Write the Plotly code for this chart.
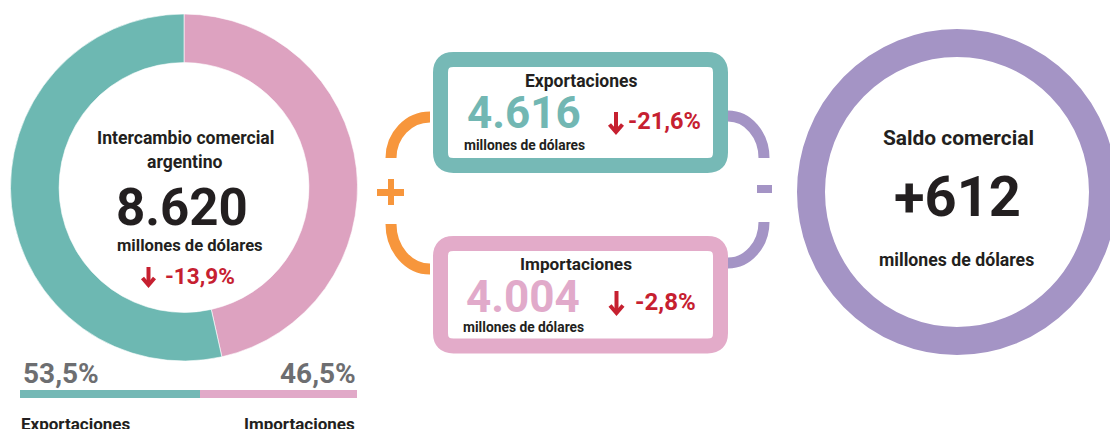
import plotly.graph_objects as go

# --- data ---
share_labels = ["Importaciones", "Exportaciones"]
share_values = [46.5, 53.5]
total_musd = 8620
total_change = -13.9
export_musd = 4616
export_change = -21.6
import_musd = 4004
import_change = -2.8
balance_musd = 612

TEAL = "#6DB8B2"
PINK = "#DDA2C0"
TEAL_BOX = "#76B9B6"
PINK_BOX = "#E3ABC9"
PURPLE = "#A494C5"
ORANGE = "#F7963C"
RED = "#C62030"
DARK = "#231F20"
GREY = "#6D6E71"
FONT = "Roboto, Liberation Sans, sans-serif"

W, H = 1118, 429
OFF = 8  # page body margin around the plot div


def fmt_num(v):
    return f"{v:,}".replace(",", ".")


def fmt_pct(v):
    return f"{v:.1f}".replace(".", ",") + "%"


def rounded_rect(x0, y0, x1, y1, r):
    return (f"M {x0+r},{y0} L {x1-r},{y0} Q {x1},{y0} {x1},{y0+r} "
            f"L {x1},{y1-r} Q {x1},{y1} {x1-r},{y1} L {x0+r},{y1} "
            f"Q {x0},{y1} {x0},{y1-r} L {x0},{y0+r} Q {x0},{y0} {x0+r},{y0} Z")


def quarter(x0, y0, x1, y1, first_horizontal):
    # cubic approximation of a quarter ellipse between two points
    k = 0.5523
    if first_horizontal:
        c1 = (x0 + k * (x1 - x0), y0)
        c2 = (x1, y1 - k * (y1 - y0))
    else:
        c1 = (x0, y0 + k * (y1 - y0))
        c2 = (x1 - k * (x1 - x0), y1)
    return f"M {x0},{y0} C {c1[0]},{c1[1]} {c2[0]},{c2[1]} {x1},{y1}"


def px_x(x):
    return (x - OFF) / W


def px_y(y):
    return (H - (y - OFF)) / H


fig = go.Figure()

# donut: intercambio comercial
fig.add_trace(go.Pie(
    labels=share_labels, values=share_values, hole=0.72, sort=False,
    direction="clockwise", rotation=0,
    marker=dict(colors=[PINK, TEAL], line=dict(color="white", width=0.6)),
    textinfo="none", hoverinfo="label+percent", showlegend=False,
    domain=dict(x=[px_x(10), px_x(358)], y=[px_y(361), px_y(14)]),
))

# share bar under the donut
bar_cols = ["#74B8B5", "#E1A9C8"]
for lab, val, col in zip(share_labels[::-1], share_values[::-1], bar_cols):
    fig.add_trace(go.Bar(
        x=[val], y=[0], orientation="h", marker=dict(color=col, line=dict(width=0)),
        width=1, xaxis="x2", yaxis="y2", showlegend=False, name=lab,
    ))

fig.update_layout(
    width=W, height=H, margin=dict(l=0, r=0, t=0, b=0),
    paper_bgcolor="white", plot_bgcolor="rgba(0,0,0,0)",
    barmode="stack", font=dict(family=FONT, color=DARK),
    xaxis=dict(range=[OFF, W + OFF], visible=False, domain=[0, 1], fixedrange=True),
    yaxis=dict(range=[H + OFF, OFF], visible=False, domain=[0, 1], fixedrange=True),
    xaxis2=dict(range=[0, 100], visible=False, domain=[px_x(20), px_x(357)], anchor="y2"),
    yaxis2=dict(range=[-0.5, 0.5], visible=False, domain=[px_y(398), px_y(390)], anchor="x2"),
)

shapes = []
# boxes
shapes.append(dict(type="path", path=rounded_rect(440.5, 59.5, 720.5, 165.5, 13),
                   line=dict(color=TEAL_BOX, width=15), fillcolor="white"))
shapes.append(dict(type="path", path=rounded_rect(440.5, 243.5, 720.5, 346, 13),
                   line=dict(color=PINK_BOX, width=15), fillcolor="white"))
# brackets
for p, c in [
    (quarter(430, 117, 391, 158, True), ORANGE),
    (quarter(391, 224, 430, 269, False), ORANGE),
    (quarter(728, 116, 764, 158, True), PURPLE),
    (quarter(764, 222, 728, 263, False), PURPLE),
]:
    shapes.append(dict(type="path", path=p, line=dict(color=c, width=11)))
# plus / minus signs
shapes.append(dict(type="line", x0=377, x1=404, y0=192.5, y1=192.5, line=dict(color=ORANGE, width=7)))
shapes.append(dict(type="line", x0=391, x1=391, y0=179, y1=205, line=dict(color=ORANGE, width=6)))
shapes.append(dict(type="line", x0=757, x1=772, y0=189, y1=189, line=dict(color=PURPLE, width=8)))
# saldo ring
shapes.append(dict(type="circle", x0=811, x1=1103, y0=43, y1=341, line=dict(color=PURPLE, width=28)))


def down_arrow(cx, y0, y1, hw, lw=4):
    # red "down" arrow in front of each variation
    shapes.append(dict(type="line", x0=cx, x1=cx, y0=y0, y1=y1 - 2, line=dict(color=RED, width=lw)))
    shapes.append(dict(type="path", path=f"M {cx-hw},{y1-hw-1} L {cx},{y1} L {cx+hw},{y1-hw-1}",
                       line=dict(color=RED, width=lw)))


down_arrow(148.5, 267, 285, 6)
down_arrow(616, 112, 132, 6.5)
down_arrow(616.5, 291, 313, 6.5)

for s in shapes:
    s.update(xref="x", yref="y", layer="below")
fig.update_layout(shapes=shapes)


def txt(x, y, text, size, color=DARK, anchor="center", weight=700):
    fig.add_annotation(x=x, y=y, xref="x", yref="y", text=text, showarrow=False,
                       xanchor=anchor, yanchor="middle",
                       font=dict(size=size, color=color, family=FONT, weight=weight))


# donut texts
txt(185, 138, "Intercambio comercial", 17.6)
txt(185, 162, "argentino", 17.6)
txt(182, 207, fmt_num(total_musd), 51)
txt(190, 245, "millones de dólares", 16.6)
txt(163, 276, fmt_pct(total_change), 22.5, RED, "left")

# bar labels
txt(21, 373, fmt_pct(share_values[1]), 28, GREY, "left")
txt(358, 373, fmt_pct(share_values[0]), 28, GREY, "right")
txt(19, 424, share_labels[1], 17, DARK, "left")
txt(357, 424, share_labels[0], 17, DARK, "right")

# exportaciones box
txt(581, 81, "Exportaciones", 17.5)
txt(524, 112.5, fmt_num(export_musd), 44, "#72B7B3")
txt(524, 145, "millones de dólares", 13.8)
txt(626, 121, fmt_pct(export_change), 23.5, RED, "left")

# importaciones box
txt(576, 264, "Importaciones", 17.2)
txt(523, 297, fmt_num(import_musd), 44, "#E1AACA")
txt(523, 327, "millones de dólares", 13.8)
txt(633, 302, fmt_pct(import_change), 24, RED, "left")

# saldo comercial
txt(958, 138, "Saldo comercial", 20.9)
txt(957, 197, "+" + fmt_num(balance_musd), 56)
txt(956, 260, "millones de dólares", 17.7)

fig.write_html("out.html")
